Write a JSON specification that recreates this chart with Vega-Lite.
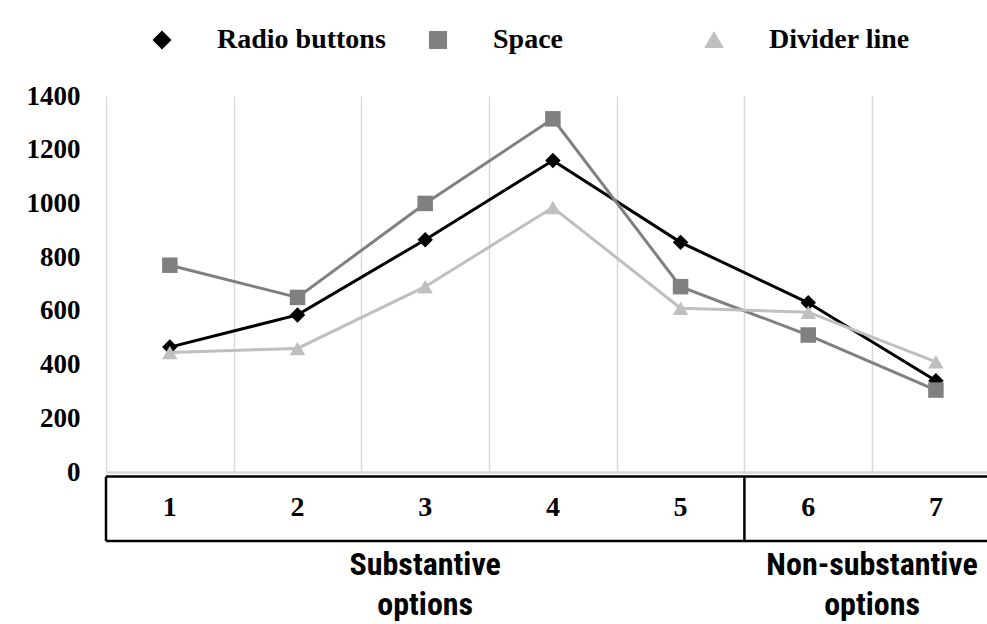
{
  "$schema": "https://vega.github.io/schema/vega-lite/v6.json",
  "width": 881,
  "height": 376,
  "autosize": {"type": "none"},
  "padding": {"left": 106, "top": 96, "right": 0, "bottom": 152},
  "background": "white",
  "config": {
    "view": {"stroke": null},
    "legend": {
      "orient": "none", "legendX": 42, "legendY": -70,
      "direction": "horizontal", "columns": 3,
      "labelFont": "Liberation Serif", "labelFontWeight": "bold",
      "labelFontSize": 28, "labelColor": "#000000", "labelOffset": 41,
      "labelLimit": 400, "columnPadding": 38, "gridAlign": "all",
      "symbolSize": 260, "symbolStrokeWidth": 2, "symbolOpacity": 1,
      "padding": 0
    }
  },
  "data": {
    "values": [
      {"series": "Radio buttons", "option": 1, "count": 465, "group": "Substantive\noptions"},
      {"series": "Radio buttons", "option": 2, "count": 585, "group": "Substantive\noptions"},
      {"series": "Radio buttons", "option": 3, "count": 865, "group": "Substantive\noptions"},
      {"series": "Radio buttons", "option": 4, "count": 1160, "group": "Substantive\noptions"},
      {"series": "Radio buttons", "option": 5, "count": 855, "group": "Substantive\noptions"},
      {"series": "Radio buttons", "option": 6, "count": 630, "group": "Non-substantive\noptions"},
      {"series": "Radio buttons", "option": 7, "count": 340, "group": "Non-substantive\noptions"},
      {"series": "Space", "option": 1, "count": 770, "group": "Substantive\noptions"},
      {"series": "Space", "option": 2, "count": 650, "group": "Substantive\noptions"},
      {"series": "Space", "option": 3, "count": 1000, "group": "Substantive\noptions"},
      {"series": "Space", "option": 4, "count": 1315, "group": "Substantive\noptions"},
      {"series": "Space", "option": 5, "count": 690, "group": "Substantive\noptions"},
      {"series": "Space", "option": 6, "count": 510, "group": "Non-substantive\noptions"},
      {"series": "Space", "option": 7, "count": 305, "group": "Non-substantive\noptions"},
      {"series": "Divider line", "option": 1, "count": 445, "group": "Substantive\noptions"},
      {"series": "Divider line", "option": 2, "count": 460, "group": "Substantive\noptions"},
      {"series": "Divider line", "option": 3, "count": 690, "group": "Substantive\noptions"},
      {"series": "Divider line", "option": 4, "count": 985, "group": "Substantive\noptions"},
      {"series": "Divider line", "option": 5, "count": 610, "group": "Substantive\noptions"},
      {"series": "Divider line", "option": 6, "count": 595, "group": "Non-substantive\noptions"},
      {"series": "Divider line", "option": 7, "count": 410, "group": "Non-substantive\noptions"}
    ]
  },
  "layer": [
    {
      "mark": {"type": "line", "strokeWidth": 3, "clip": false},
      "encoding": {
        "x": {
          "field": "option", "type": "quantitative",
          "scale": {"domain": [0.5, 7.4], "nice": false, "zero": false},
          "axis": {
            "values": [0.5, 1.5, 2.5, 3.5, 4.5, 5.5, 6.5],
            "grid": true, "gridColor": "#d9d9d9", "gridWidth": 1.5,
            "labels": false, "ticks": false,
            "domain": true, "domainColor": "#d9d9d9", "domainWidth": 2.5,
            "title": null
          }
        },
        "y": {
          "field": "count", "type": "quantitative",
          "scale": {"domain": [0, 1400], "nice": false},
          "axis": {
            "values": [0, 200, 400, 600, 800, 1000, 1200, 1400],
            "format": "d",
            "grid": false, "domain": false, "ticks": false,
            "labelFont": "Liberation Serif", "labelFontWeight": "bold",
            "labelFontSize": 27, "labelColor": "#000000", "labelPadding": 26,
            "title": null
          }
        },
        "color": {
          "field": "series", "type": "nominal",
          "scale": {"domain": ["Radio buttons", "Space", "Divider line"], "range": ["#000000", "#808080", "#bfbfbf"]},
          "legend": {"title": null}
        }
      }
    },
    {
      "mark": {"type": "point", "filled": true, "opacity": 1, "size": 240, "clip": false},
      "encoding": {
        "x": {"field": "option", "type": "quantitative"},
        "y": {"field": "count", "type": "quantitative"},
        "color": {"field": "series", "type": "nominal"},
        "shape": {
          "field": "series", "type": "nominal",
          "scale": {"domain": ["Radio buttons", "Space", "Divider line"], "range": ["diamond", "square", "triangle-up"]},
          "legend": {"title": null}
        }
      }
    },
    {
      "data": {"values": [{}]},
      "mark": {"type": "rule", "color": "#000000", "strokeWidth": 2.5, "clip": false},
      "encoding": {
        "x": {"datum": 0.5, "type": "quantitative"},
        "x2": {"datum": 7.6},
        "y": {"datum": -17, "type": "quantitative"}
      }
    },
    {
      "data": {"values": [{}]},
      "mark": {"type": "rule", "color": "#000000", "strokeWidth": 2.5, "clip": false},
      "encoding": {
        "x": {"datum": 0.5, "type": "quantitative"},
        "x2": {"datum": 7.6},
        "y": {"datum": -257, "type": "quantitative"}
      }
    },
    {
      "data": {"values": [{}]},
      "mark": {"type": "rule", "color": "#000000", "strokeWidth": 2.5, "clip": false},
      "encoding": {
        "x": {"datum": 0.5, "type": "quantitative"},
        "y": {"datum": -17, "type": "quantitative"},
        "y2": {"datum": -257}
      }
    },
    {
      "data": {"values": [{}]},
      "mark": {"type": "rule", "color": "#000000", "strokeWidth": 2.5, "clip": false},
      "encoding": {
        "x": {"datum": 5.5, "type": "quantitative"},
        "y": {"datum": -17, "type": "quantitative"},
        "y2": {"datum": -257}
      }
    },
    {
      "transform": [{"filter": "datum.series === 'Radio buttons'"}],
      "mark": {"type": "text", "font": "Liberation Serif", "fontWeight": "bold", "fontSize": 28, "color": "#000000", "baseline": "middle", "align": "center", "clip": false},
      "encoding": {
        "x": {"field": "option", "type": "quantitative"},
        "y": {"datum": -134, "type": "quantitative"},
        "text": {"field": "option", "type": "nominal"}
      }
    },
    {
      "transform": [{"aggregate": [{"op": "mean", "field": "option", "as": "center"}], "groupby": ["group"]}],
      "mark": {"type": "text", "font": "Liberation Sans Narrow, Roboto Condensed, Roboto, sans-serif", "fontWeight": "bold", "fontSize": 32, "color": "#000000", "baseline": "middle", "align": "center", "lineBreak": "\n", "lineHeight": 40, "clip": false},
      "encoding": {
        "x": {"field": "center", "type": "quantitative"},
        "y": {"datum": -346, "type": "quantitative"},
        "text": {"field": "group", "type": "nominal"}
      }
    }
  ]
}
